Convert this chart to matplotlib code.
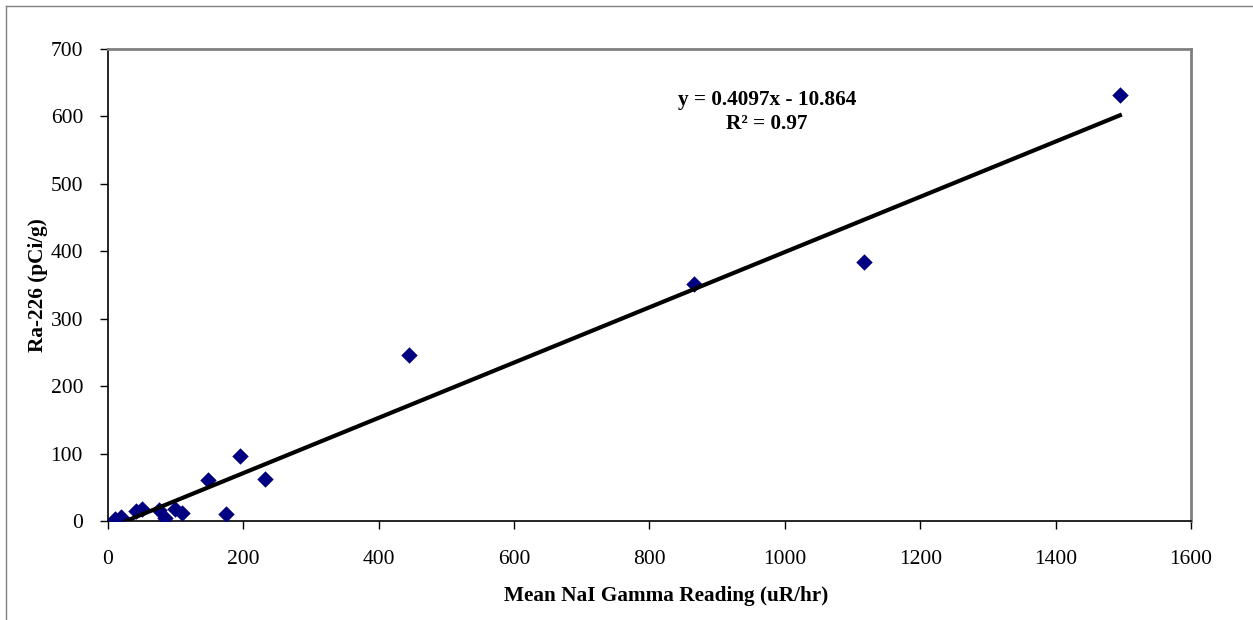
import matplotlib
matplotlib.use('Agg')
import matplotlib.pyplot as plt
from matplotlib.lines import Line2D
import numpy as np

# Mean NaI gamma reading (uR/hr) vs Ra-226 (pCi/g)
gamma = [10, 19, 42, 50, 75, 84, 99, 109, 148, 175, 195, 232, 445, 866, 1117, 1495]
radium = [3, 6, 15, 18, 16, 4, 18, 12, 61, 11, 97, 63, 246, 351, 384, 632]

slope = 0.4097
intercept = -10.864
r2 = 0.97

plt.rcParams['font.family'] = ['Liberation Serif', 'DejaVu Serif']

fig = plt.figure(figsize=(12.53, 6.2), dpi=100)
ax = fig.add_axes([0.0862, 0.1597, 0.8643, 0.7613])

ax.scatter(gamma, radium, marker='D', s=70, color='#000080', zorder=3, linewidths=0)

xfit = np.array([min(gamma), max(gamma)])
ax.plot(xfit, slope * xfit + intercept, color='black', lw=3, zorder=4)

ax.set_xlim(0, 1600)
ax.set_ylim(0, 700)
ax.set_xticks(range(0, 1601, 200))
ax.set_yticks(range(0, 701, 100))
ax.tick_params(direction='out', length=6, width=1, labelsize=15.5)
ax.tick_params(axis='x', pad=15)
ax.tick_params(axis='y', pad=12)

for side in ['top', 'right']:
    ax.spines[side].set_color('#808080')
    ax.spines[side].set_linewidth(2)
for side in ['left', 'bottom']:
    ax.spines[side].set_color('black')
    ax.spines[side].set_linewidth(1.2)

ax.set_xlabel('Mean NaI Gamma Reading (uR/hr)', fontsize=15.3, fontweight='bold', labelpad=12)
ax.xaxis.set_label_coords(0.515, -0.138)
ax.set_ylabel('Ra-226 (pCi/g)', fontsize=15.3, fontweight='bold', labelpad=1.5)

ax.text(0.6085, 0.866, 'y = %.4fx - %.3f\nR² = %.2f' % (slope, -intercept, r2),
        transform=ax.transAxes, ha='center', va='center', fontsize=15.3,
        fontweight='bold', linespacing=1.3)

# outer chart border (left and top)
fig.add_artist(Line2D([6 / 1253, 6 / 1253], [0, 1 - 6 / 620], transform=fig.transFigure,
                      color='#808080', lw=1))
fig.add_artist(Line2D([6 / 1253, 1], [1 - 6 / 620, 1 - 6 / 620], transform=fig.transFigure,
                      color='#808080', lw=1))

fig.savefig('out.png', dpi=100)
